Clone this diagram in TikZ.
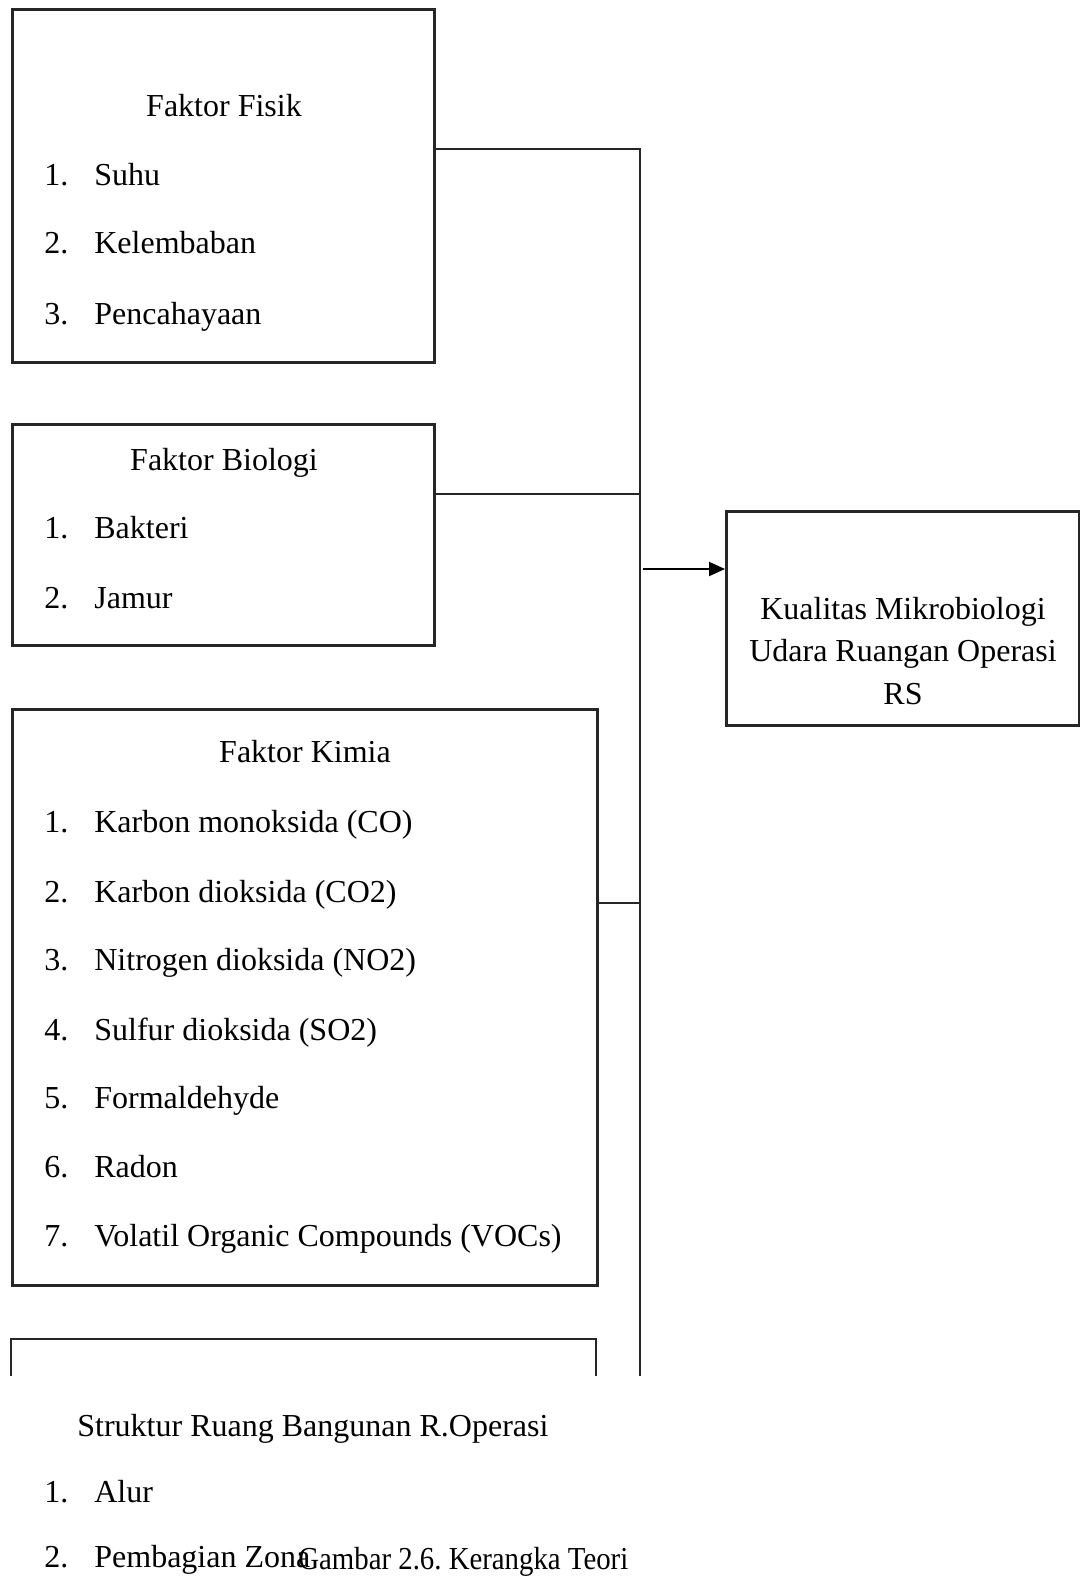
\documentclass[tikz,border=0pt]{standalone}
\usepackage{fontspec}
\setmainfont{Liberation Serif}
\usetikzlibrary{arrows.meta,positioning}

\tikzset{
  box/.style={rectangle,draw=black!85,line width=1.4pt,inner sep=0pt,anchor=north west},
  link/.style={draw=black!85,line width=1.4pt},
  arrow/.style={draw=black,line width=1pt,-{Triangle[length=8pt,width=7pt]}},
  ttl/.style={anchor=base,inner sep=0pt,yshift=-1.5pt,font=\fontsize{16}{19}\selectfont},
  itm/.style={anchor=base west,inner sep=0pt,yshift=-1.5pt,font=\fontsize{16}{19}\selectfont}
}
\newcommand{\numitem}[2]{\makebox[25pt][l]{#1}#2}
\frenchspacing

\begin{document}
\begin{tikzpicture}[x=0.5pt,y=-0.5pt]
    \useasboundingbox (0,0) rectangle (1080,1578);

    % boxes
    \node [box,minimum width=211pt,minimum height=176.5pt] (fisik) at (11,8) {};
    \node [box,minimum width=211pt,minimum height=110.5pt] (biologi) at (11,423) {};
    \node [box,minimum width=292.5pt,minimum height=288pt] (kimia) at (11,708) {};
    \node [box,minimum width=176.5pt,minimum height=107pt] (kualitas) at (725,510) {};
    \draw [link] (11,1376) |- (596,1339) -- (596,1376);

    % bus
    \coordinate (b1) at (640,149);
    \coordinate (b2) at (640,494);
    \coordinate (b3) at (640,903);
    \coordinate (b4) at (640,569);
    \coordinate (bend) at (640,1376);
    \draw [link] (b1 -| fisik.east) -- (b1) -- (bend);
    \draw [link] (b2 -| biologi.east) -- (b2);
    \draw [link] (b3 -| kimia.east) -- (b3);
    \draw [arrow] ([xshift=1.5pt]b4) -- (b4 -| kualitas.west);

    % Faktor Fisik
    \node [ttl] (fisik-t) at (224,114) {Faktor Fisik};
    \node [itm] (fisik-1) at (44,183) {\numitem{1.}{Suhu}};
    \node [itm] (fisik-2) at (44,251) {\numitem{2.}{Kelembaban}};
    \node [itm] (fisik-3) at (44,321) {\numitem{3.}{Pencahayaan}};

    % Faktor Biologi
    \node [ttl] (biologi-t) at (224,467) {Faktor Biologi};
    \node [itm] (biologi-1) at (44,535) {\numitem{1.}{Bakteri}};
    \node [itm] (biologi-2) at (44,605) {\numitem{2.}{Jamur}};

    % Faktor Kimia
    \node [ttl] (kimia-t) at (305,759) {Faktor Kimia};
    \node [itm] (kimia-1) at (44,829) {\numitem{1.}{Karbon monoksida (CO)}};
    \node [itm] (kimia-2) at (44,899) {\numitem{2.}{Karbon dioksida (CO2)}};
    \node [itm] (kimia-3) at (44,967) {\numitem{3.}{Nitrogen dioksida (NO2)}};
    \node [itm] (kimia-4) at (44,1037) {\numitem{4.}{Sulfur dioksida (SO2)}};
    \node [itm] (kimia-5) at (44,1105) {\numitem{5.}{Formaldehyde}};
    \node [itm] (kimia-6) at (44,1174) {\numitem{6.}{Radon}};
    \node [itm] (kimia-7) at (44,1243) {\numitem{7.}{Volatil Organic Compounds (VOCs)}};

    % Kualitas
    \node [ttl] (kualitas-1) at (903,616) {Kualitas Mikrobiologi};
    \node [ttl] (kualitas-2) at (903,658) {Udara Ruangan Operasi};
    \node [ttl] (kualitas-3) at (903,701) {RS};

    % Struktur
    \node [itm] (struktur-t) at (77,1433) {Struktur Ruang Bangunan R.Operasi};
    \node [itm] (struktur-1) at (44,1499) {\numitem{1.}{Alur}};
    \node [itm] (struktur-2) at (44,1564) {\numitem{2.}{Pembagian Zona}};

    \node [itm] (caption) at (298,1566) {\scalebox{0.9}[1]{Gambar 2.6. Kerangka Teori}};
\end{tikzpicture}
\end{document}
